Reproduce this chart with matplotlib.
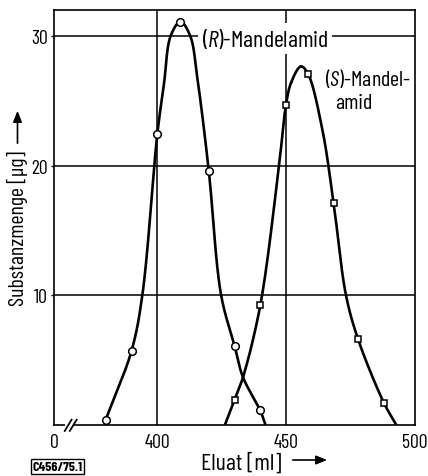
import numpy as np
import matplotlib
matplotlib.use("Agg")
import matplotlib.pyplot as plt
from matplotlib import font_manager as fm
from matplotlib.patches import FancyArrowPatch, Rectangle
from matplotlib.lines import Line2D

# ---------------- data ----------------
R_x = [380, 390, 400, 409, 420, 430, 440]
R_y = [0.4, 5.7, 22.4, 31.1, 19.6, 6.1, 1.1]
S_x = [430, 440, 450, 458.5, 468.5, 478, 488]
S_y = [1.9, 9.2, 24.7, 27.1, 17.1, 6.6, 1.7]

# extra points along the hand-drawn curves
R_shape_x = [394.2, 402.6, 405.2, 412.8, 415.6, 424.8, 433.3, 442.0]
R_shape_y = [10.0, 26.3, 30.0, 30.0, 26.7, 10.0, 3.66, 0.0]
S_shape_x = [426.3, 433.3, 447.3, 452.0, 455.8, 464.1, 473.3, 492.8]
S_shape_y = [0.0, 3.66, 20.0, 26.4, 27.65, 22.8, 10.0, 0.0]

x_ticks = [360, 400, 450, 500]
x_ticklabels = ["0", "400", "450", "500"]
y_ticks = [10, 20, 30]
y_ticklabels = ["10", "20", "30"]

W, H = 428, 477

# ---------------- font: prefer a condensed sans ----------------
cands = ['Barlow Condensed', 'Barlow Semi Condensed', 'Roboto Condensed', 'Archivo Narrow',
         'PT Sans Narrow', 'Liberation Sans Narrow', 'Fira Sans Condensed', 'IBM Plex Sans Condensed',
         'Open Sans Condensed', 'Encode Sans Condensed', 'Asap Condensed', 'Ubuntu Condensed']
available = {f.name for f in fm.fontManager.ttflist}
FONT = next((c for c in cands if c in available), None)
if FONT is None:
    cond = sorted({f.name for f in fm.fontManager.ttflist
                   if f.stretch in ('condensed', 'semi-condensed') and 'Mono' not in f.name})
    FONT = cond[0] if cond else 'DejaVu Sans'
plt.rcParams['font.family'] = [FONT, 'DejaVu Sans']
plt.rcParams['mathtext.fontset'] = 'custom'
plt.rcParams['mathtext.rm'] = FONT
plt.rcParams['mathtext.it'] = FONT + ':italic'

fig = plt.figure(figsize=(W / 100, H / 100), dpi=100)
renderer = fig.canvas.get_renderer()


def fit_size(s, target_px, maxsize, **kw):
    t = fig.text(0, 0, s, fontsize=10, **kw)
    w = t.get_window_extent(renderer).width
    t.remove()
    return min(maxsize, 10 * target_px / w)


def catmull_rom(xs, ys, n=40, alpha=0.5):
    sx, sy = 2.6, 12.96
    P = np.column_stack([np.asarray(xs, float) * sx, np.asarray(ys, float) * sy])
    P = np.vstack([2 * P[0] - P[1], P, 2 * P[-1] - P[-2]])
    out = []
    for i in range(1, len(P) - 2):
        p0, p1, p2, p3 = P[i - 1], P[i], P[i + 1], P[i + 2]
        t0 = 0.0
        t1 = t0 + np.linalg.norm(p1 - p0) ** alpha
        t2 = t1 + np.linalg.norm(p2 - p1) ** alpha
        t3 = t2 + np.linalg.norm(p3 - p2) ** alpha
        t = np.linspace(t1, t2, n)[:, None]
        A1 = (t1 - t) / (t1 - t0) * p0 + (t - t0) / (t1 - t0) * p1
        A2 = (t2 - t) / (t2 - t1) * p1 + (t - t1) / (t2 - t1) * p2
        A3 = (t3 - t) / (t3 - t2) * p2 + (t - t2) / (t3 - t2) * p3
        B1 = (t2 - t) / (t2 - t0) * A1 + (t - t0) / (t2 - t0) * A2
        B2 = (t3 - t) / (t3 - t1) * A2 + (t - t1) / (t3 - t1) * A3
        C = (t2 - t) / (t2 - t1) * B1 + (t - t1) / (t2 - t1) * B2
        out.append(C)
    C = np.vstack(out)
    return C[:, 0] / sx, C[:, 1] / sy


def curve(px, py, shx, shy):
    xx = np.array(list(px) + list(shx)); yy = np.array(list(py) + list(shy))
    o = np.argsort(xx)
    return catmull_rom(xx[o], yy[o])


tick_fs = fit_size("400", 26, 18)
ax = fig.add_axes([54.3 / W, 1 - 425.7 / H, (414.7 - 54.3) / W, (425.7 - 11) / H])
ax.set_xlim(360, 500)
ax.set_ylim(0, 32)
for s in ax.spines.values():
    s.set_linewidth(1.2)

# grid
for yv in y_ticks:
    ax.axhline(yv, color='black', lw=1.1, zorder=1)
for xv in x_ticks[1:3]:
    ax.axvline(xv, color='black', lw=1.1, zorder=1)

cx, cy = curve(R_x, R_y, R_shape_x, R_shape_y)
ax.plot(cx, cy, color='black', lw=1.9, zorder=3, solid_capstyle='butt')
cx, cy = curve(S_x, S_y, S_shape_x, S_shape_y)
ax.plot(cx, cy, color='black', lw=1.9, zorder=3, solid_capstyle='butt')

ax.plot(R_x, R_y, 'o', ms=5.5, mfc='white', mec='black', mew=1.1, zorder=4, clip_on=False)
ax.plot(S_x, S_y, 's', ms=5, mfc='white', mec='black', mew=1.1, zorder=4, clip_on=False)

ax.set_xticks(x_ticks)
ax.set_xticklabels(x_ticklabels)
ax.set_yticks(y_ticks)
ax.set_yticklabels(y_ticklabels)
ax.tick_params(axis='x', length=0, pad=6, labelsize=tick_fs)
ax.tick_params(axis='y', length=2.5, width=1.0, pad=2, labelsize=tick_fs)

# labels on curves
r_lab = "($\\mathit{R}$)-Mandelamid"
ax.text(417.2, 29.8, r_lab, fontsize=fit_size(r_lab, 128, 18), ha='left', va='center', zorder=5,
        bbox=dict(boxstyle='square,pad=0.15', fc='white', ec='none'))
s_lab = "($\\mathit{S}$)-Mandel-"
s_fs = fit_size(s_lab, 87, 18)
ax.text(465.0, 26.8, s_lab, fontsize=s_fs, ha='left', va='center', zorder=5)
ax.text(468.9, 24.85, "amid", fontsize=s_fs, ha='left', va='center', zorder=5)

# axis break mark
ax.add_patch(Rectangle((0.031, -0.01), 0.024, 0.02, transform=ax.transAxes, fc='white', ec='none',
                       clip_on=False, zorder=6))
for x0 in (0.029, 0.043):
    ax.add_line(Line2D([x0, x0 + 0.019], [-0.015, 0.012], transform=ax.transAxes, color='black',
                       lw=1.3, clip_on=False, zorder=7))

# axis titles with arrows
y_lab = "Substanzmenge [µg]"
fig.text(17.5 / W, 1 - 228 / H, y_lab, rotation=90, ha='center', va='center',
         fontsize=fit_size(y_lab, 155, 18))
fig.add_artist(FancyArrowPatch((17.5 / W, 1 - 147 / H), (17.5 / W, 1 - 109 / H), transform=fig.transFigure,
                               arrowstyle='-|>,head_length=0.55,head_width=0.22', mutation_scale=12,
                               color='black', lw=1.2))
x_lab = "Eluat [ml]"
fig.text(201 / W, 1 - 463.5 / H, x_lab, ha='left', va='center', fontsize=fit_size(x_lab, 80, 18))
fig.add_artist(FancyArrowPatch((290 / W, 1 - 461 / H), (330 / W, 1 - 461 / H), transform=fig.transFigure,
                               arrowstyle='-|>,head_length=0.55,head_width=0.22', mutation_scale=12,
                               color='black', lw=1.2))

code = "C456/75.1"
fig.text(57.5 / W, 1 - 467.5 / H, code, ha='center', va='center',
         fontsize=fit_size(code, 57, 10, fontweight='bold'), fontweight='bold',
         bbox=dict(boxstyle='square,pad=0.12', fc='white', ec='black', lw=1.0))

fig.savefig("out.png", dpi=100)
